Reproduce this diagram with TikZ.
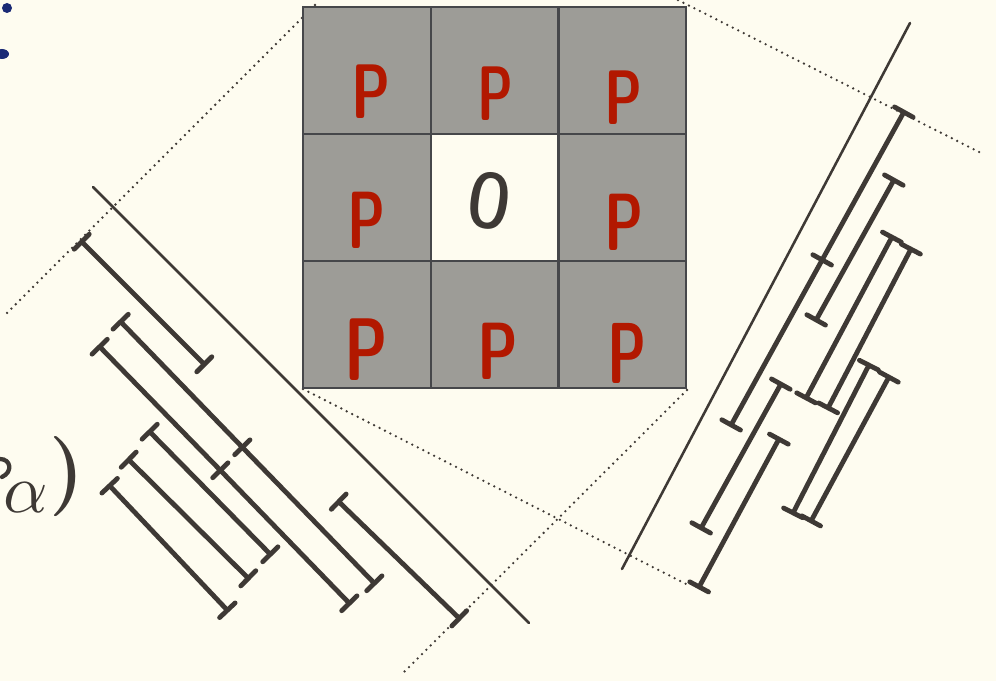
\documentclass[tikz,border=0pt]{standalone}
\usetikzlibrary{arrows.meta}
\definecolor{bgc}{HTML}{FEFCF0}
\definecolor{cellg}{HTML}{9D9C97}
\definecolor{gridc}{HTML}{46474A}
\definecolor{ink}{HTML}{3E3935}
\definecolor{pred}{HTML}{B21800}
\definecolor{dotblue}{HTML}{1A2A75}
\begin{document}
\begin{tikzpicture}[x=0.75pt,y=-0.75pt,
  cell/.style={draw=gridc, line width=1.6pt, fill=cellg, minimum width=95.5pt, minimum height=95.5pt, inner sep=0pt, outer sep=0pt},
  holecell/.style={cell, fill=bgc},
  letterP/.style={text=pred, inner sep=0pt, font=\fontsize{58}{58}\selectfont\sffamily\bfseries},
  letterO/.style={text=ink, inner sep=0pt, font=\fontsize{58}{58}\selectfont\sffamily\bfseries},
  handtext/.style={text=ink, inner sep=0pt},
  dotline/.style={draw=ink, line width=1.9pt, line cap=round, dash pattern=on 0pt off 4.6pt},
  thinline/.style={draw=ink, line width=1.9pt, line cap=round},
  interval/.style={draw=ink, line width=3.6pt, line cap=round, {Bar[width=16pt,round]}-{Bar[width=16pt,round]}},
  halfint/.style={draw=ink, line width=3.6pt, line cap=round, -{Bar[width=16pt,round]}}
]
\useasboundingbox (0,0) rectangle (996,681);
\fill[bgc] (0,0) rectangle (996,681);

% blue dots (cut off at the left edge)
\fill[dotblue] (7,8) circle[radius=5];
\fill[dotblue] (2,54) ellipse[x radius=7, y radius=5];

% dotted guide lines
\coordinate (d1a) at (315,5);   \coordinate (d1b) at (7,313);
\coordinate (d2a) at (678,0);   \coordinate (d2b) at (981,153);
\coordinate (d3a) at (303,389); \coordinate (d3b) at (688,585);
\coordinate (d4a) at (687,390); \coordinate (d4b) at (403,673);
\draw[dotline] (d1a) -- (d1b);
\draw[dotline] (d2a) -- (d2b);
\draw[dotline] (d3a) -- (d3b);
\draw[dotline] (d4a) -- (d4b);

% thin solid axes
\coordinate (s1a) at (93,187);  \coordinate (s1b) at (529,623);
\coordinate (s2a) at (910,23);  \coordinate (s2b) at (622,569);
\draw[thinline] (s1a) -- (s1b);
\draw[thinline] (s2a) -- (s2b);

% grid
\node[cell] (c11) at (367,70.5) {};
\node[cell] (c12) at (494.5,70.5) {};
\node[cell] (c13) at (622.5,70.5) {};
\node[cell] (c21) at (367,197.5) {};
\node[holecell] (c22) at (494.5,197.5) {};
\node[cell] (c23) at (622.5,197.5) {};
\node[cell] (c31) at (367,324.5) {};
\node[cell] (c32) at (494.5,324.5) {};
\node[cell] (c33) at (622.5,324.5) {};

\node[letterP] (p11) at (371,92) {\scalebox{0.72}[1]{P}};
\node[letterP] (p12) at (495,94) {\scalebox{0.66}[1]{P}};
\node[letterP] (p13) at (624,98) {\scalebox{0.7}[1]{P}};
\node[letterP] (p21) at (367,220) {\scalebox{0.7}[1.05]{P}};
\node[letterO] (o22) at (490,201) {\rotatebox{-8}{\scalebox{0.7}[1]{O}}};
\node[letterP] (p23) at (624,222) {\scalebox{0.72}[1.05]{P}};
\node[letterP] (p31) at (366,350) {\scalebox{0.8}[1.15]{P}};
\node[letterP] (p32) at (498,351) {\scalebox{0.75}[1.05]{P}};
\node[letterP] (p33) at (627,353) {\scalebox{0.72}[1.12]{P}};

% partial label at the left edge
\draw[ink, line width=3.2pt, line cap=round] (0,459) .. controls (11,459) and (13,472) .. (2,477);
\node[handtext] (alpha) at (26,498) {\scalebox{5.2}{$\alpha$}};
\node[handtext, font=\fontsize{60}{60}\selectfont\bfseries] (paren) at (67,477) {)};

% left intervals
\coordinate (L1a) at (80,240);  \coordinate (L1b) at (206,366);
\coordinate (L2a) at (119,320); \coordinate (L2m) at (244,449); \coordinate (L2b) at (376,585);
\coordinate (L3a) at (98,345);  \coordinate (L3m) at (222,472); \coordinate (L3b) at (351,605);
\coordinate (L4a) at (337,500); \coordinate (L4b) at (461,620);
\coordinate (L5a) at (148,430); \coordinate (L5b) at (272,556);
\coordinate (L6a) at (127,458); \coordinate (L6b) at (250,580);
\coordinate (L7a) at (108,484); \coordinate (L7b) at (229,612);
\draw[interval] (L1a) -- (L1b);
\draw[interval] (L2a) -- (L2m);
\draw[halfint] (L2m) -- (L2b);
\draw[interval] (L3a) -- (L3m);
\draw[halfint] (L3m) -- (L3b);
\draw[interval] (L4a) -- (L4b);
\draw[interval] (L5a) -- (L5b);
\draw[interval] (L6a) -- (L6b);
\draw[interval] (L7a) -- (L7b);

% right intervals
\coordinate (R1a) at (905,110); \coordinate (R1m) at (821,262); \coordinate (R1b) at (730,427);
\coordinate (R2a) at (895,178); \coordinate (R2b) at (815,322);
\coordinate (R3a) at (893,235); \coordinate (R3b) at (805,400);
\coordinate (R4a) at (912,247); \coordinate (R4b) at (827,410);
\coordinate (R5a) at (782,382); \coordinate (R5b) at (700,530);
\coordinate (R6a) at (780,437); \coordinate (R6b) at (698,589);
\coordinate (R7a) at (870,363); \coordinate (R7b) at (792,515);
\coordinate (R8a) at (890,375); \coordinate (R8b) at (810,523);
\draw[interval] (R1a) -- (R1m);
\draw[halfint] (R1m) -- (R1b);
\draw[interval] (R2a) -- (R2b);
\draw[interval] (R3a) -- (R3b);
\draw[interval] (R4a) -- (R4b);
\draw[interval] (R5a) -- (R5b);
\draw[interval] (R6a) -- (R6b);
\draw[interval] (R7a) -- (R7b);
\draw[interval] (R8a) -- (R8b);
\end{tikzpicture}
\end{document}
